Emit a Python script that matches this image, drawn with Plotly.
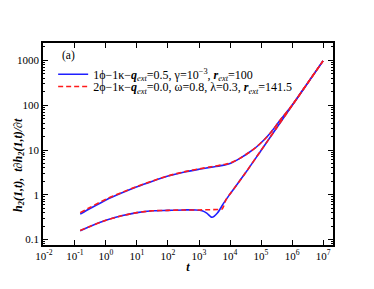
import plotly.graph_objects as go

# log10(t) sample points
logt_upper = [-0.83, -0.5, 0.0, 0.5, 1.0, 1.5, 2.0, 2.5, 3.0, 3.4, 3.8, 4.0, 4.33, 4.6, 4.87, 5.1, 5.3, 5.6, 6.0, 6.5, 7.0]
upper_blue = [0.37, 0.50, 0.77, 1.10, 1.52, 2.02, 2.63, 3.20, 3.72, 4.15, 4.60, 5.00, 6.6, 8.7, 12.0, 17.0, 24.0, 45.0, 100.0, 312.0, 980.0]
upper_red = [0.40, 0.53, 0.80, 1.12, 1.54, 2.04, 2.66, 3.24, 3.80, 4.25, 4.75, 5.10, 6.6, 8.7, 12.0, 17.0, 24.0, 45.0, 100.0, 312.0, 980.0]

logt_lower_blue = [-0.83, -0.5, 0.0, 0.5, 1.0, 1.5, 2.0, 2.5, 2.9, 3.1, 3.25, 3.42, 3.6, 3.79, 3.98, 4.5, 5.0, 5.5, 6.0, 6.5, 7.0]
lower_blue = [0.158, 0.20, 0.27, 0.34, 0.40, 0.44, 0.45, 0.46, 0.46, 0.44, 0.39, 0.315, 0.40, 0.645, 1.0, 3.1, 9.8, 31.0, 98.0, 310.0, 980.0]

logt_lower_red = [-0.83, -0.5, 0.0, 0.5, 1.0, 1.5, 2.0, 2.5, 3.0, 3.3, 3.6, 3.74, 3.80, 3.87, 3.98, 4.5, 5.0, 5.5, 6.0, 6.5, 7.0]
lower_red = [0.160, 0.20, 0.27, 0.34, 0.40, 0.44, 0.45, 0.46, 0.46, 0.465, 0.47, 0.48, 0.57, 0.78, 1.0, 3.1, 9.8, 31.0, 98.0, 310.0, 980.0]

x_tickvals = [1e-2, 1e-1, 1e0, 1e1, 1e2, 1e3, 1e4, 1e5, 1e6, 1e7]
x_ticktext = ["10<sup>-2</sup>", "10<sup>-1</sup>", "10<sup>0</sup>", "10<sup>1</sup>", "10<sup>2</sup>",
              "10<sup>3</sup>", "10<sup>4</sup>", "10<sup>5</sup>", "10<sup>6</sup>", "10<sup>7</sup>"]

name_blue = "1ϕ−1κ−<b><i>q</i></b><sub><i>ext</i></sub>=0.5, γ=10<sup>−3</sup>, <b><i>r</i></b><sub><i>ext</i></sub>=100"
name_red = "2ϕ−1κ−<b><i>q</i></b><sub><i>ext</i></sub>=0.0, ω=0.8, λ=0.3, <b><i>r</i></b><sub><i>ext</i></sub>=141.5"
y_title = ("<b><i>h</i></b><sub><b><i>2</i></b></sub><b><i>(1,t),  t∂h</i></b>"
           "<sub><b><i>2</i></b></sub><b><i>(1,t)/∂t</i></b>")

FONT = "Liberation Serif"

def tvals(lt):
    return [10 ** v for v in lt]

fig = go.Figure()
blue = dict(color="#1f1fff", width=1.6)
red = dict(color="#ff1a1a", width=1.6, dash="5px,3px")

fig.add_trace(go.Scatter(x=tvals(logt_upper), y=upper_blue, mode="lines", line=dict(**blue, shape="spline", smoothing=0.8),
                         name=name_blue, legend="legend"))
fig.add_trace(go.Scatter(x=tvals(logt_lower_blue), y=lower_blue, mode="lines", line=dict(**blue, shape="spline", smoothing=0.8),
                         name=name_blue, showlegend=False))
fig.add_trace(go.Scatter(x=tvals(logt_upper), y=upper_red, mode="lines", line=dict(**red, shape="spline", smoothing=0.8),
                         name=name_red, legend="legend2"))
fig.add_trace(go.Scatter(x=tvals(logt_lower_red), y=lower_red, mode="lines", line=dict(**red, shape="spline", smoothing=0.6),
                         name=name_red, showlegend=False))

legfont = dict(family=FONT, size=12, color="black")
fig.update_layout(
    width=366, height=281,
    margin=dict(l=35, r=41, t=35, b=44, autoexpand=False),
    paper_bgcolor="white", plot_bgcolor="white",
    font=dict(family=FONT, size=11, color="black"),
    showlegend=True,
    legend=dict(x=0.035, y=0.845, xanchor="left", yanchor="middle", bgcolor="rgba(0,0,0,0)",
                font=legfont, itemwidth=30),
    legend2=dict(x=0.035, y=0.785, xanchor="left", yanchor="middle", bgcolor="rgba(0,0,0,0)",
                 font=legfont, itemwidth=30),
    annotations=[
        dict(text="(a)", xref="paper", yref="paper", x=0.088, y=0.94, xanchor="center", yanchor="middle",
             showarrow=False, font=dict(family=FONT, size=11.5, color="black")),
        dict(text=y_title, xref="paper", yref="paper", x=-0.083, y=0.396, xanchor="center", yanchor="middle",
             textangle=-90, showarrow=False, font=dict(family=FONT, size=12, color="black")),
    ],
)

fig.update_xaxes(
    type="log", range=[-2.03, 7.32], automargin=False,
    tickmode="array", tickvals=x_tickvals, ticktext=x_ticktext,
    ticks="inside", ticklen=5, tickwidth=1, tickcolor="black",
    showline=True, linewidth=1.5, linecolor="black", mirror="ticks",
    showgrid=False, zeroline=False,
    tickfont=dict(family=FONT, size=11, color="black"),
    title=dict(text="<b><i>t</i></b>", font=dict(family=FONT, size=12, color="black"), standoff=2),
)

fig.update_yaxes(
    type="log", range=[-1.12, 3.39], automargin=False,
    tickmode="linear", tick0=0, dtick=1, exponentformat="none",
    ticks="inside", ticklen=5, tickwidth=1, tickcolor="black",
    minor=dict(ticks="inside", ticklen=2.5, tickwidth=1, tickcolor="black", dtick="D1", showgrid=False),
    showline=True, linewidth=1.5, linecolor="black", mirror="ticks",
    showgrid=False, zeroline=False,
    tickfont=dict(family=FONT, size=11, color="black"),
)

fig.write_html("out.html")
